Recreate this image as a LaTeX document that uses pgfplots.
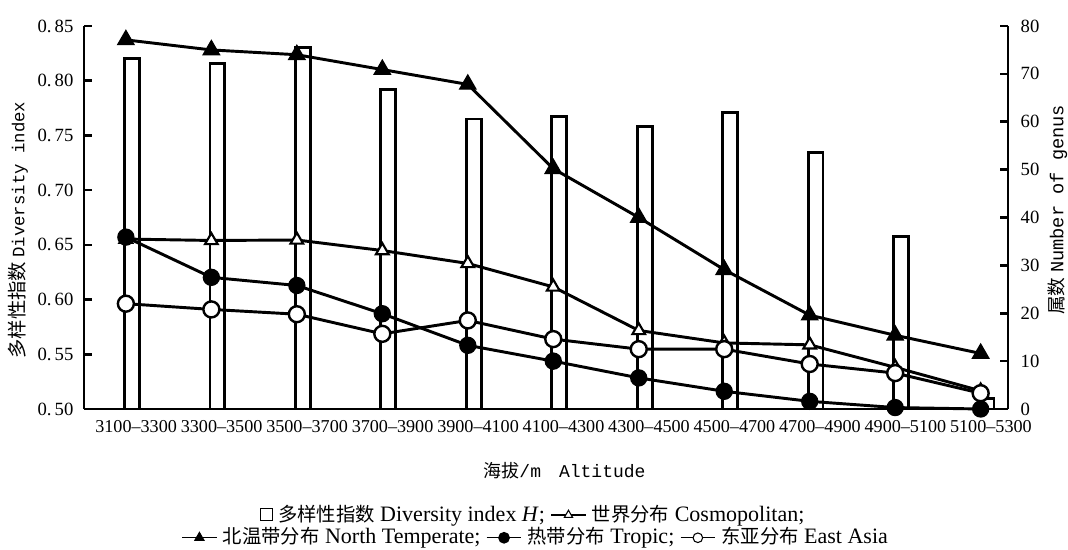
\documentclass[border=0pt]{standalone}
\usepackage{fontspec}
\setmainfont{Liberation Serif}
\setmonofont{Liberation Mono}
\newfontfamily\cjk{Noto Sans CJK SC}
\usepackage{pgfplots}
\usepackage{pgfplotstable}
\pgfplotsset{compat=1.18}

\pgfplotstableread{
i  H     nt    cos   tro   ea
0  0.820 77.1  35.5  35.9  22.0
1  0.816 75.0  35.2  27.5  20.8
2  0.830 74.0  35.3  25.8  19.8
3  0.792 70.9  33.1  19.9  15.7
4  0.765 67.8  30.4  13.3  18.5
5  0.767 50.2  25.5  10.0  14.6
6  0.758 40.0  16.4  6.5   12.5
7  0.771 29.1  13.8  3.7   12.5
8  0.734 19.6  13.4  1.6   9.4
9  0.658 15.4  8.7   0.3   7.5
10 0.510 11.6  3.8   0.0   3.3
}\data

\newcommand{\legmark}[3]{\tikz[baseline=-0.6ex]{\draw[line width=1pt](0,0)--(26pt,0);\begin{scope}[shift={(13pt,0)},line width=0.8pt,fill=#2]\pgfsetplotmarksize{#3}\pgfuseplotmark{#1}\end{scope}}}
\newcommand{\legbox}{\tikz[baseline=-0.1ex]{\draw[line width=0.7pt](0,0) rectangle (9pt,9pt);}}
\newcommand{\lc}[1]{{\cjk\fontsize{14.5}{14.5}\selectfont #1}}

\begin{document}
\begin{tikzpicture}
\path[use as bounding box] (0,0) rectangle (801pt,412.5pt);
\pgfplotsset{common/.style={
  scale only axis, width=693pt, height=287.25pt,
  at={(63pt,105.75pt)}, anchor=south west,
  xmin=-0.61, xmax=10.2,
  axis line style={line width=2.2pt,-},
  tick align=inside, major tick length=6pt,
  tick style={line width=2pt,black},
  ticklabel style={font=\fontsize{14}{14}\selectfont},
  /pgf/number format/assume math mode=true,
}}
\begin{axis}[common,
  axis x line*=bottom, axis y line*=left,
  ymin=0.5, ymax=0.85,
  ytick={0.50,0.55,0.60,0.65,0.70,0.75,0.80,0.85},
  yticklabels={0.\,50,0.\,55,0.\,60,0.\,65,0.\,70,0.\,75,0.\,80,0.\,85},
  xtick={0,1,2,3,4,5,6,7,8,9,10},
  xticklabels={3100--3300,3300--3500,3500--3700,3700--3900,3900--4100,4100--4300,4300--4500,4500--4700,4700--4900,4900--5100,5100--5300},
  x tick style={draw=none},
  xticklabel style={yshift=-5pt, font=\fontsize{13.6}{13.6}\selectfont},
  yticklabel style={xshift=-4.4pt},
  ylabel={{\cjk\fontsize{14.5}{14.5}\selectfont 多样性指数}\ {\ttfamily Diversity index}},
  ylabel style={at={(axis description cs:-0.0714,0.467)}, anchor=center, font=\fontsize{13}{13}\selectfont},
  xlabel={{\cjk 海拔}{\ttfamily/m}\quad{\ttfamily Altitude}},
  xlabel style={at={(axis description cs:0.52,-0.16)}, anchor=center, font=\fontsize{13.5}{13.5}\selectfont},
]
\addplot[ybar, bar width=11pt, bar shift=0pt, draw=black, fill=white, line width=2.2pt]
  table[x expr=\thisrow{i}-0.05, y=H]{\data};
\end{axis}
\begin{axis}[common,
  axis x line=none, axis y line*=right,
  ymin=0, ymax=80,
  ytick={0,10,20,30,40,50,60,70,80},
  yticklabels={0,10,20,30,40,50,60,70,80},
  yticklabel style={xshift=6pt},
  ylabel={{\cjk 属数}\ {\ttfamily Number of genus}},
  ylabel style={at={(axis description cs:1.0534,0.52)}, anchor=center, rotate=0, font=\fontsize{14}{14}\selectfont},
  clip=false,
]
\addplot[black, line width=2.2pt, mark=triangle*, mark size=5.5pt, mark options={fill=white, line width=1.6pt}]
  table[x expr=\thisrow{i}-0.12, y=cos]{\data};
\addplot[black, line width=2.2pt, mark=triangle*, mark size=7pt, mark options={fill=black, line width=1pt}]
  table[x expr=\thisrow{i}-0.12, y=nt]{\data};
\addplot[black, line width=2.2pt, mark=*, mark size=6pt, mark options={fill=white, line width=1.8pt}]
  table[x expr=\thisrow{i}-0.12, y=ea]{\data};
\addplot[black, line width=2.2pt, mark=*, mark size=6pt, mark options={fill=black, line width=1pt}]
  table[x expr=\thisrow{i}-0.12, y=tro]{\data};
\end{axis}
\node[anchor=center, font=\fontsize{16.5}{16.5}\selectfont] at (399pt,26pt)
  {\legbox\ \lc{多样性指数} Diversity index \textit{H};\ \legmark{triangle*}{white}{3.6pt}\ \lc{世界分布} Cosmopolitan;};
\node[anchor=center, font=\fontsize{16.5}{16.5}\selectfont] at (401pt,9pt)
  {\legmark{triangle*}{black}{4pt}\ \lc{北温带分布} North Temperate;\ \legmark{*}{black}{4pt}\ \lc{热带分布} Tropic;\ \legmark{*}{white}{3.6pt}\ \lc{东亚分布} East Asia};
\end{tikzpicture}
\end{document}
